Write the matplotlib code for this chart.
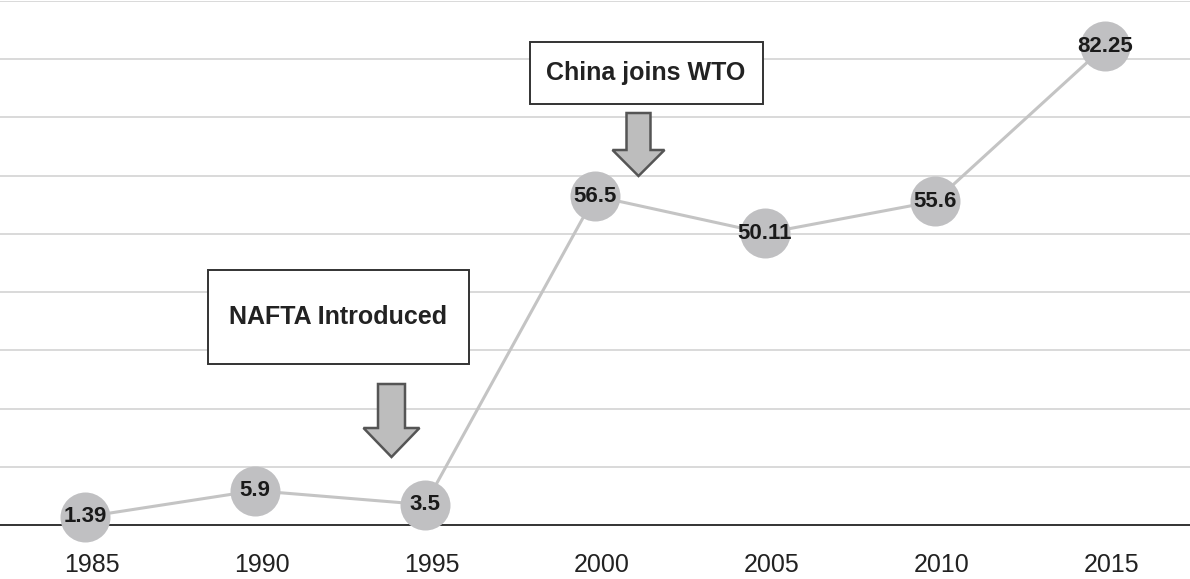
import numpy as np
import matplotlib
matplotlib.use("Agg")
import matplotlib.pyplot as plt
import matplotlib.transforms as mtransforms
from matplotlib.patches import Rectangle, Polygon

years = ["1985", "1990", "1995", "2000", "2005", "2010", "2015"]
values = [1.39, 5.9, 3.5, 56.5, 50.11, 55.6, 82.25]
value_labels = ["1.39", "5.9", "3.5", "56.5", "50.11", "55.6", "82.25"]
events = ["NAFTA Introduced", "China joins WTO"]

plt.rcParams['font.family'] = ['Liberation Sans', 'DejaVu Sans']

fig = plt.figure(figsize=(11.9, 5.79), dpi=100)
ax = fig.add_axes([0, 54 / 579, 1, 524 / 579])

x = np.arange(len(years))
ax.plot(x, values, color='#c4c4c4', lw=2.2, zorder=3, clip_on=False)
ax.plot(x, values, 'o', ms=36, color='#c0c0c2', mec='none', zorder=4,
        clip_on=False)
for xi, v, lab in zip(x, values, value_labels):
    ax.text(xi, v, lab, ha='center', va='center', fontsize=16,
            fontweight='bold', color='#1a1a1a', zorder=5)

ax.set_xlim(-0.5, 6.5)
ax.set_ylim(0, 90)
ax.set_yticks(np.arange(0, 91, 10))
ax.yaxis.grid(True, color='#d9d9d9', lw=1.4)
ax.set_axisbelow(True)
ax.tick_params(axis='y', left=False, labelleft=False)
ax.set_xticks(x)
ax.set_xticklabels(years, fontsize=18, color='#222222')
ax.tick_params(axis='x', length=0, pad=20)
shift = mtransforms.ScaledTranslation(7 / 100, 0, fig.dpi_scale_trans)
for lbl in ax.get_xticklabels():
    lbl.set_transform(lbl.get_transform() + shift)
for s in ['top', 'left', 'right']:
    ax.spines[s].set_visible(False)
ax.spines['bottom'].set_color('#333333')
ax.spines['bottom'].set_linewidth(1.4)
ax.spines['bottom'].set_zorder(2)


def px_to_data(px, py):
    return (px - 84.5) / 170, (525 - py) * 90 / 524


def box(x0, y0, x1, y1, text):
    (a, b), (c, d) = px_to_data(x0, y1), px_to_data(x1, y0)
    ax.add_patch(Rectangle((a, b), c - a, d - b, fc='white', ec='#333333',
                           lw=1.4, zorder=6))
    ax.text((a + c) / 2, (b + d) / 2, text, ha='center', va='center',
            fontsize=18, fontweight='bold', color='#222222', zorder=7)


def arrow(tx, ty, head_half, head_len, body_half, total):
    pts = np.array([[0, 0], [-head_half, head_len], [-body_half, head_len],
                    [-body_half, total], [body_half, total],
                    [body_half, head_len], [head_half, head_len]]) / 100.0
    xd, yd = px_to_data(tx, ty)
    trans = fig.dpi_scale_trans + mtransforms.ScaledTranslation(xd, yd, ax.transData)
    ax.add_patch(Polygon(pts, closed=True, fc='#bdbdbd', ec='#555555',
                         lw=1.8, transform=trans, zorder=6))


box(207, 270, 468, 364, events[0])
arrow(391, 457, 28, 29, 13.5, 73)
box(529, 42, 762, 104, events[1])
arrow(638, 176, 26, 26, 12, 63)

fig.savefig("out.png", dpi=100)
